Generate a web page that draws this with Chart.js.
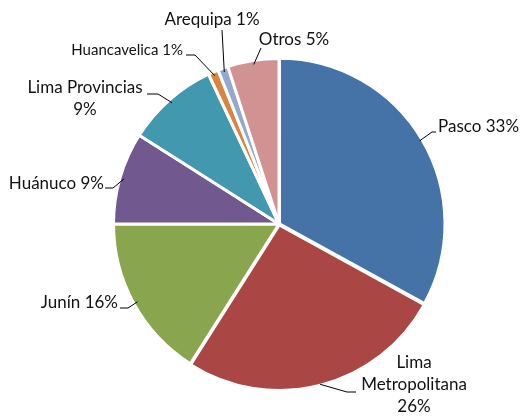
<!DOCTYPE html>
<html><head><meta charset="utf-8">
<script src="https://cdn.jsdelivr.net/npm/chart.js@4/dist/chart.umd.min.js"></script>
<style>html,body{margin:0;padding:0;background:#fff}#wrap{width:520px;height:416px}</style>
</head><body><div id="wrap"><canvas id="c" width="520" height="416"></canvas></div>
<script>
const categories = ["Pasco", "Lima Metropolitana", "Junín", "Huánuco", "Lima Provincias", "Huancavelica", "Arequipa", "Otros"];
const shares = [33, 26, 16, 9, 9, 1, 1, 5];
const labelLines = [["Pasco 33%"], ["Lima", "Metropolitana", "26%"], ["Junín 16%"], ["Huánuco 9%"], ["Lima Provincias", "9%"], ["Huancavelica 1%"], ["Arequipa 1%"], ["Otros 5%"]];
const colors = ["#4572A7", "#AA4643", "#89A54E", "#71588F", "#4198AF", "#DB843D", "#93A9CF", "#D19392"];

const labelStyle = [
  {x: 438, y: 127, align: "left", line: [[432, 132], [436, 132]], font: 17},
  {x: 414, y: 363, align: "center", line: [[347, 392], [356, 392]], font: 17},
  {x: 118, y: 303, align: "right", line: [[128, 308], [120, 308]], font: 17},
  {x: 104, y: 184, align: "right", line: [[113, 188], [105, 188]], font: 17},
  {x: 85, y: 88, align: "center", line: [[158, 94], [147, 94]], font: 17},
  {x: 183, y: 50, align: "right", line: [[195, 55], [186, 55]], font: 15},
  {x: 212, y: 20, align: "center", line: [[222, 30]], font: 17},
  {x: 294, y: 40, align: "center", line: [[261, 48]], font: 17}
];

const labelPlugin = {
  id: 'outLabels',
  afterDraw(chart) {
    const ctx = chart.ctx;
    const meta = chart.getDatasetMeta(0);
    ctx.save();
    meta.data.forEach((arc, i) => {
      const st = labelStyle[i];
      const mid = (arc.startAngle + arc.endAngle) / 2;
      const r = arc.outerRadius - 4;
      const off = arc.options.offset || 0;
      const px = arc.x + Math.cos(mid) * (r + off);
      const py = arc.y + Math.sin(mid) * (r + off);
      ctx.strokeStyle = '#000';
      ctx.lineWidth = 1;
      ctx.beginPath();
      ctx.moveTo(px, py);
      st.line.forEach(p => ctx.lineTo(p[0], p[1]));
      ctx.stroke();
      ctx.fillStyle = '#111';
      ctx.font = st.font + 'px Lato, "Open Sans", sans-serif';
      ctx.textAlign = st.align;
      ctx.textBaseline = 'middle';
      const lh = 22;
      labelLines[i].forEach((t, k) => ctx.fillText(t, st.x, st.y + k * lh));
    });
    ctx.restore();
  }
};

new Chart(document.getElementById('c'), {
  type: 'pie',
  data: {
    labels: categories,
    datasets: [{
      data: shares,
      backgroundColor: colors,
      borderColor: '#ffffff',
      borderWidth: 3,
      offset: [2, 4, 0, 0, 0, 0, 0, 0]
    }]
  },
  options: {
    responsive: false,
    animation: false,
    layout: {padding: {left: 110, right: 72, top: 55, bottom: 23}},
    plugins: {legend: {display: false}, tooltip: {enabled: false}}
  },
  plugins: [labelPlugin]
});
</script></body></html>
